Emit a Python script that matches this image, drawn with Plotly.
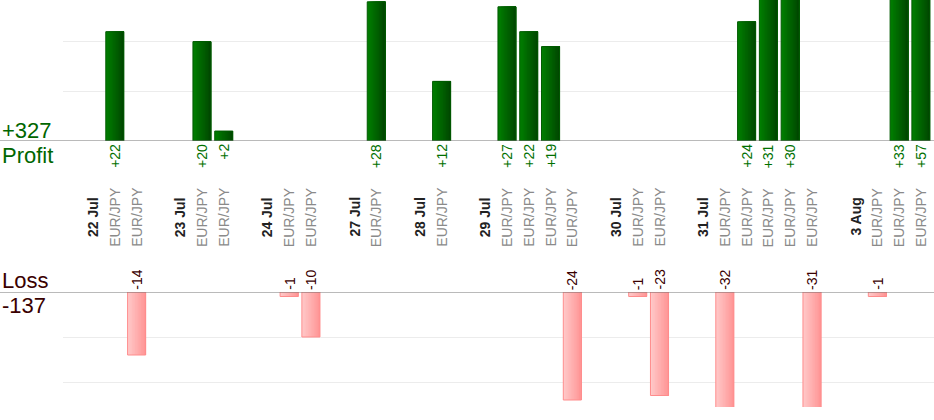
import plotly.graph_objects as go

# trading days and the trades closed on each (day index, pair, result in pips)
days = ["22 Jul", "23 Jul", "24 Jul", "27 Jul", "28 Jul", "29 Jul", "30 Jul", "31 Jul", "3 Aug"]
trade_day = [0, 0, 1, 1, 2, 2, 3, 4, 5, 5, 5, 5, 6, 6, 7, 7, 7, 7, 7, 8, 8, 8]
trade_pair = ["EUR/JPY"] * 22
trade_pnl = [22, -14, 20, 2, -1, -10, 28, 12, 27, 22, 19, -24, -1, -23,
             -32, 24, 31, 30, -31, -1, 33, 57]

W, H = 934, 420
FONT = "Arial, Liberation Sans, sans-serif"

# lay out slots: day label, its trades, then an empty spacer
day_slot = []
trade_slot = []
slot = 0
for d in range(len(days)):
    day_slot.append(slot)
    slot += 1
    for i, td in enumerate(trade_day):
        if td == d:
            trade_slot.append(slot)
            slot += 1
    slot += 1

px_ = [s for s, v in zip(trade_slot, trade_pnl) if v > 0]
py_ = [v for v in trade_pnl if v > 0]
lx_ = [s for s, v in zip(trade_slot, trade_pnl) if v < 0]
ly_ = [v for v in trade_pnl if v < 0]
total_profit = sum(py_)
total_loss = sum(ly_)


def mix(c1, c2, t):
    return "rgb(%d,%d,%d)" % tuple(round(a + (b - a) * t) for a, b in zip(c1, c2))


fig = go.Figure()
bw = 0.83
n = 12
# fake horizontal gradient: each slice runs to the right edge, later ones on top
for k in range(n):
    t = k / (n - 1)
    fig.add_trace(go.Bar(x=px_, y=py_, width=bw * (n - k) / n, offset=-bw / 2 + k * bw / n,
                         marker=dict(color=mix((0, 126, 0), (0, 72, 0), t), line_width=0),
                         xaxis="x", yaxis="y", hoverinfo="skip", showlegend=False))
    fig.add_trace(go.Bar(x=lx_, y=ly_, width=bw * (n - k) / n, offset=-bw / 2 + k * bw / n,
                         marker=dict(color=mix((255, 200, 200), (255, 150, 150), t), line_width=0),
                         xaxis="x2", yaxis="y2", hoverinfo="skip", showlegend=False))
fig.add_trace(go.Bar(x=px_, y=py_, width=bw, offset=-bw / 2,
                     marker=dict(color="rgba(0,0,0,0)", line=dict(color="#005a00", width=1)),
                     xaxis="x", yaxis="y", showlegend=False))
fig.add_trace(go.Bar(x=lx_, y=ly_, width=bw, offset=-bw / 2,
                     marker=dict(color="rgba(0,0,0,0)", line=dict(color="#ff8c8c", width=1)),
                     xaxis="x2", yaxis="y2", showlegend=False))

ann = []
for s, v in zip(trade_slot, trade_pnl):
    if v > 0:
        ann.append(dict(x=s, y=0, xref="x", yref="y", text="+%d" % v, textangle=-90,
                        xanchor="center", yanchor="top", yshift=-1, showarrow=False,
                        font=dict(size=14, color="#007000", family=FONT)))
    else:
        ann.append(dict(x=s, y=0, xref="x2", yref="y2", text="%d" % v, textangle=-90,
                        xanchor="center", yanchor="bottom", yshift=0, showarrow=False,
                        font=dict(size=14, color="#3a0000", family=FONT)))
for s, p in zip(trade_slot, trade_pair):
    ann.append(dict(x=s, y=1 - 217 / H, xref="x", yref="paper", text=p, textangle=-90,
                    xanchor="center", yanchor="middle", showarrow=False,
                    font=dict(size=14, color="#8a8a8a", family=FONT)))
for s, d in zip(day_slot, days):
    ann.append(dict(x=s, y=1 - 217 / H, xref="x", yref="paper", text="<b>%s</b>" % d,
                    textangle=-90, xanchor="center", yanchor="middle", showarrow=False,
                    font=dict(size=14, color="#222222", family=FONT)))

side = [("+%d" % total_profit, 130, "#006600"), ("Profit", 155, "#006600"),
        ("Loss", 280, "#3a0000"), ("%d" % total_loss, 305, "#3a0000")]
for txt, yy, col in side:
    ann.append(dict(x=0, y=1 - yy / H, xref="paper", yref="paper", text=txt,
                    xanchor="left", yanchor="middle", xshift=0, showarrow=False,
                    font=dict(size=22, color=col, family=FONT)))

x0 = 63 / W
xr = [-1.38, 38.6]
top_base, bot_base, bot_end = 141, 292, 407
fig.update_layout(
    width=W, height=H, margin=dict(l=0, r=0, t=0, b=0),
    paper_bgcolor="white", plot_bgcolor="white", barmode="overlay",
    xaxis=dict(domain=[x0, 1], range=xr, visible=False, anchor="y"),
    xaxis2=dict(domain=[x0, 1], range=xr, visible=False, anchor="y2", matches="x"),
    yaxis=dict(domain=[1 - top_base / H, 1], range=[0, top_base / 4.97], dtick=10,
               showgrid=True, gridcolor="#ececec", zeroline=False, showticklabels=False),
    yaxis2=dict(domain=[1 - bot_end / H, 1 - bot_base / H], range=[-(bot_end - bot_base) / 4.5, 0],
                dtick=10, showgrid=True, gridcolor="#ececec", zeroline=False,
                showticklabels=False),
    annotations=ann,
    shapes=[dict(type="line", xref="paper", yref="y", x0=0, x1=1, y0=0, y1=0,
                 line=dict(color="#777777", width=1.2)),
            dict(type="line", xref="paper", yref="y2", x0=0, x1=1, y0=0, y1=0,
                 line=dict(color="#777777", width=1.2))],
)

# page body has an 8px default margin; drop it so the chart sits at the window corner
fig.write_html("out.html", config={"displayModeBar": False},
               post_script="document.body.style.margin='0';")
